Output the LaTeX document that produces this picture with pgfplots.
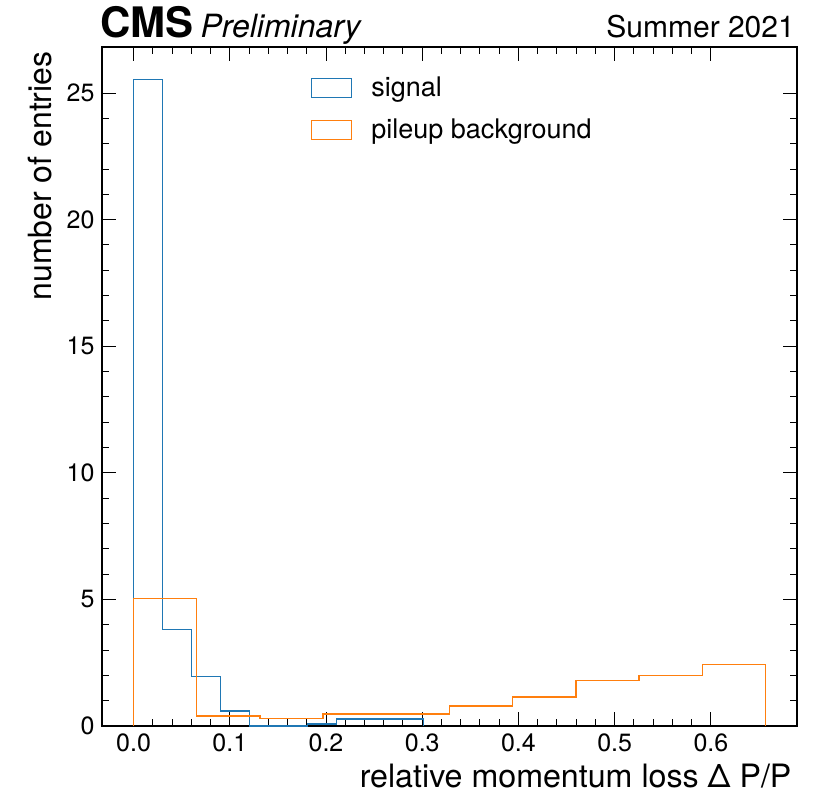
\documentclass[border=0pt]{standalone}
\usepackage{pgfplots}
\pgfplotsset{compat=1.18}
\usepackage{fontspec}
\setmainfont{TeX Gyre Heros}
\definecolor{sigblue}{HTML}{1F77B4}
\definecolor{bkgorange}{HTML}{FF7F0E}
\begin{document}
\begin{tikzpicture}
\begin{axis}[
  name=ax,
  scale only axis,
  width=695pt, height=679pt,
  xmin=-0.0328, xmax=0.6895,
  ymin=0, ymax=26.82,
  xtick={0,0.1,0.2,0.3,0.4,0.5,0.6},
  ytick={0,5,10,15,20,25},
  minor x tick num=4,
  minor y tick num=4,
  tick align=inside,
  major tick length=14pt,
  minor tick length=7pt,
  every tick/.style={black, line width=1pt},
  axis line style={line width=1.6pt},
  /pgf/number format/assume math mode=true,
  xticklabel style={font=\fontsize{25}{30}\selectfont, /pgf/number format/.cd, fixed, fixed zerofill, precision=1},
  yticklabel style={font=\fontsize{25}{30}\selectfont},
  xticklabel shift=4pt,
  yticklabel shift=4pt,
  xlabel={relative momentum loss Δ P/P},
  ylabel={number of entries},
  every axis x label/.style={at={(rel axis cs:1,0)}, anchor=base east, xshift=-2pt, yshift=-61pt, font=\fontsize{32.2}{36}\selectfont},
  every axis y label/.style={at={(rel axis cs:0,1)}, xshift=-50pt, yshift=-1pt, rotate=90, anchor=base east, font=\fontsize{32}{36}\selectfont},
  legend style={at={(0.296,0.962)}, anchor=north west, draw=none, fill=none, font=\fontsize{27}{30}\selectfont, row sep=17pt},
  legend cell align=left,
  legend image code/.code={\draw[#1, line width=1pt] (0pt,-9.5pt) rectangle (40pt,9.5pt); \path[draw=none] (0pt,0pt) -- (58pt,0pt);},
]
\addplot[const plot mark left, color=sigblue, line width=1.3pt] coordinates {
  (0,0) (0,25.54) (0.03014,3.80) (0.06028,1.95) (0.09042,0.59) (0.12056,0) (0.15070,0)
  (0.18084,0.08) (0.21098,0.28) (0.24112,0.28) (0.27126,0.28) (0.30140,0)
};
\addlegendentry{signal}
\addplot[const plot mark left, color=bkgorange, line width=1.3pt] coordinates {
  (0,0) (0,5.03) (0.06567,0.40) (0.13134,0.29) (0.19701,0.48) (0.26268,0.48) (0.32835,0.79)
  (0.39402,1.14) (0.45969,1.79) (0.52536,1.99) (0.59103,2.44) (0.65670,0)
};
\addlegendentry{pileup background}
\end{axis}
\node[anchor=base west, inner sep=0pt] at ([xshift=-2pt, yshift=9pt]ax.north west) {\fontsize{42}{46}\selectfont\bfseries CMS\,\fontsize{32}{36}\selectfont\mdseries\itshape Preliminary};
\node[anchor=base east, inner sep=0pt] at ([xshift=-2pt, yshift=9pt]ax.north east) {\fontsize{30}{36}\selectfont Summer 2021};
\path ([xshift=-102pt, yshift=-69pt]ax.south west) -- ([xshift=24pt, yshift=47pt]ax.north east);
\end{tikzpicture}
\end{document}
